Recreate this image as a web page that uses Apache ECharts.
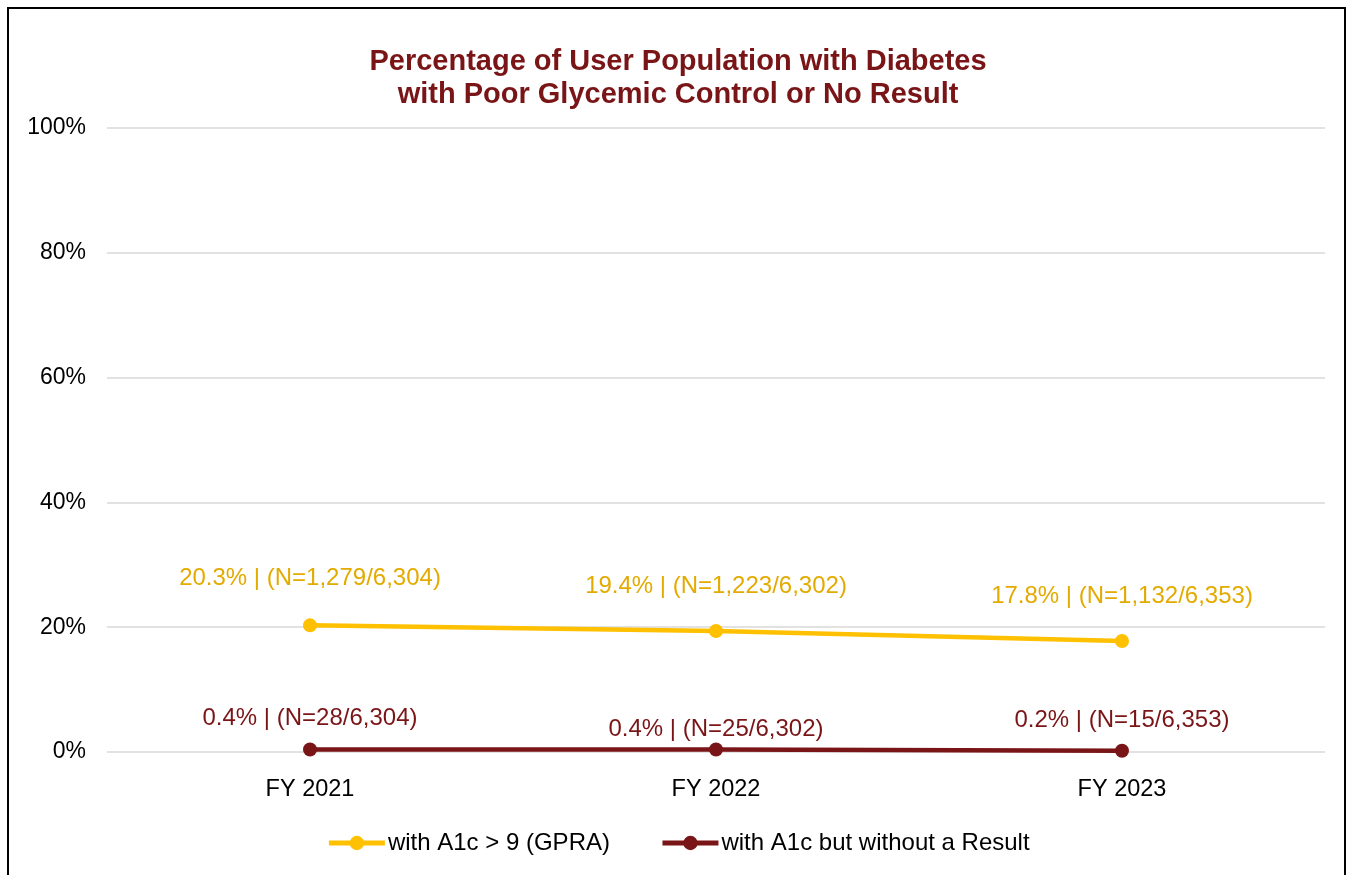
<!DOCTYPE html>
<html>
<head>
<meta charset="utf-8">
<script src="https://cdn.jsdelivr.net/npm/echarts@6/dist/echarts.min.js"></script>
<style>
  html, body { margin: 0; padding: 0; background: #fff; }
  #frame {
    position: absolute; left: 7px; top: 7px; width: 1339px; height: 880px;
    border: 2px solid #000; box-sizing: border-box;
  }
  #chart { position: absolute; left: 0; top: 0; width: 1356px; height: 875px; }
</style>
</head>
<body>
<div id="frame"></div>
<div id="chart"></div>
<script>
// data
const years = ['FY 2021', 'FY 2022', 'FY 2023'];
const gpraPct = [20.3, 19.4, 17.8];
const gpraN = ['1,279', '1,223', '1,132'];
const noResPct = [0.4, 0.4, 0.2];
const noResN = ['28', '25', '15'];
const totals = ['6,304', '6,302', '6,353'];

const yellow = '#FFC000';
const darkRed = '#7A1517';
const font = 'Liberation Sans, Arial';

// label distance above the point (style only)
const gpraDist = [28, 26, 26];
const noResDist = [12, 1, 11];

function points(vals, nums, dists) {
  return vals.map((v, i) => ({
    value: v,
    label: {
      distance: dists[i],
      formatter: v.toFixed(1) + '% | (N=' + nums[i] + '/' + totals[i] + ')'
    }
  }));
}

let myChart = echarts.init(document.getElementById('chart'));

let option = {
  animation: false,
  title: {
    text: 'Percentage of User Population with Diabetes\nwith Poor Glycemic Control or No Result',
    left: 'center',
    top: 40,
    textStyle: {
      color: darkRed,
      fontFamily: font,
      fontWeight: 'bold',
      fontSize: 29,
      lineHeight: 33
    }
  },
  legend: {
    bottom: 15,
    left: 'center',
    itemWidth: 56,
    itemHeight: 18,
    itemGap: 50,
    lineStyle: { width: 5 },
    textStyle: { fontFamily: font, fontSize: 24, color: '#000', padding: [0, 0, 0, -2] },
    data: ['with A1c > 9 (GPRA)', 'with A1c but without a Result']
  },
  grid: { left: 107, right: 31, top: 128, bottom: 123 },
  xAxis: {
    type: 'category',
    data: years,
    axisLine: { show: false },
    axisTick: { show: false },
    axisLabel: { fontFamily: font, fontSize: 23.5, color: '#000', margin: 26 }
  },
  yAxis: {
    type: 'value',
    min: 0,
    max: 100,
    interval: 20,
    axisLabel: { formatter: '{value}%', fontFamily: font, fontSize: 23, color: '#000', margin: 21 },
    splitLine: { lineStyle: { color: '#d9d9d9', width: 1.5 } }
  },
  series: [
    {
      name: 'with A1c > 9 (GPRA)',
      type: 'line',
      data: points(gpraPct, gpraN, gpraDist),
      symbol: 'circle',
      symbolSize: 14,
      itemStyle: { color: yellow },
      lineStyle: { color: yellow, width: 4.5 },
      label: {
        show: true, position: 'top',
        color: '#E3AA00', fontFamily: font, fontSize: 24
      }
    },
    {
      name: 'with A1c but without a Result',
      type: 'line',
      data: points(noResPct, noResN, noResDist),
      symbol: 'circle',
      symbolSize: 14,
      itemStyle: { color: darkRed },
      lineStyle: { color: darkRed, width: 4.5 },
      label: {
        show: true, position: 'top',
        color: darkRed, fontFamily: font, fontSize: 24
      }
    }
  ]
};

myChart.setOption(option);
</script>
</body>
</html>
